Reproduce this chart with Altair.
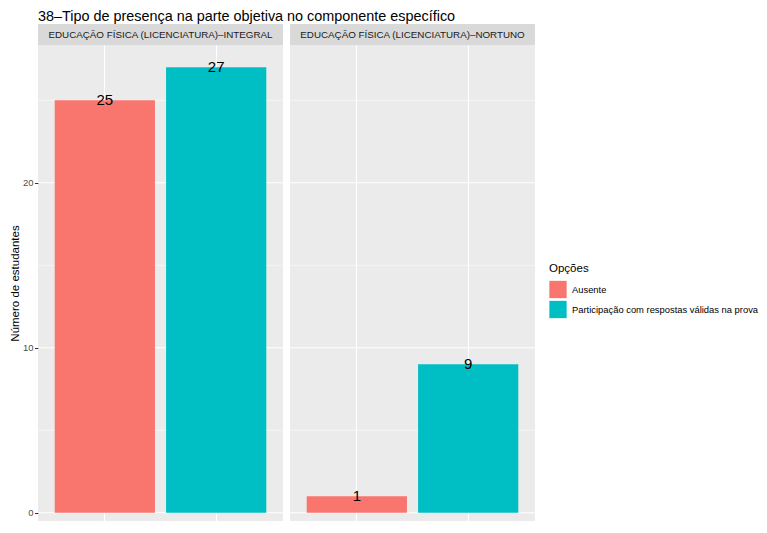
import altair as alt
import pandas as pd

title = "38–Tipo de presença na parte objetiva no componente específico"
panels = ["EDUCAÇÃO FÍSICA (LICENCIATURA)–INTEGRAL", "EDUCAÇÃO FÍSICA (LICENCIATURA)–NORTUNO"]
options = ["Ausente", "Participação com respostas válidas na prova"]
values_integral = [25, 27]
values_noturno = [1, 9]
colors = ["#F8766D", "#00BFC4"]
y_major = [0, 10, 20]
y_minor = [5, 15, 25]

FONT = "Liberation Sans"
ydom = [-0.5, 28.35]
PW, SH = 245, 21
PH = round((ydom[1] - ydom[0]) * 16.5)


def panel(label, vals, first):
    df = pd.DataFrame({"Opções": options, "n": vals})
    yscale = alt.Scale(domain=ydom, nice=False, zero=False)
    if first:
        yaxis = alt.Axis(values=y_major, grid=False, domain=False, tickSize=3.5, tickColor="#333333",
                         labelFontSize=9.5, labelColor="#4D4D4D", labelPadding=1.5, labelFont=FONT,
                         title="Número de estudantes", titleFontSize=11.5, titleFont=FONT,
                         titleFontWeight="normal", titleColor="black", titlePadding=2)
    else:
        yaxis = None
    xscale = alt.Scale(domain=options, paddingInner=0.1, paddingOuter=0.15)
    xaxis = alt.Axis(title=None, labels=False, ticks=False, domain=False, grid=True,
                     bandPosition=0.5, gridColor="white", gridWidth=1.1)

    minor = alt.Chart(pd.DataFrame({"v": y_minor})).mark_rule(color="white", strokeWidth=0.55).encode(
        y=alt.Y("v:Q", scale=yscale, axis=yaxis))
    major = alt.Chart(pd.DataFrame({"v": y_major})).mark_rule(color="white", strokeWidth=1.1).encode(
        y=alt.Y("v:Q", scale=yscale, axis=yaxis))
    bars = alt.Chart(df).mark_bar().encode(
        x=alt.X("Opções:N", scale=xscale, axis=xaxis),
        y=alt.Y("n:Q", scale=yscale, axis=yaxis),
        color=alt.Color("Opções:N", scale=alt.Scale(domain=options, range=colors),
                        legend=alt.Legend(title="Opções", orient="none", legendX=511, legendY=239,
                                          titleFontSize=11.5, titleFont=FONT, titleFontWeight="normal",
                                          titleColor="black", labelFontSize=9.4, labelFont=FONT,
                                          labelColor="black", labelLimit=0, symbolType="square",
                                          symbolSize=300, symbolStrokeWidth=0, rowPadding=2,
                                          titlePadding=6, labelOffset=5)),
    )
    text = alt.Chart(df).mark_text(fontSize=15, font=FONT, color="black", baseline="middle").encode(
        x=alt.X("Opções:N", scale=xscale, axis=xaxis),
        y=alt.Y("n:Q", scale=yscale, axis=yaxis),
        text="n:Q",
    )
    plot = alt.layer(minor, major, bars, text).properties(width=PW, height=PH)

    sdf = pd.DataFrame({"label": [label]})
    strip_bg = alt.Chart(sdf).mark_rect(color="#D9D9D9").encode(
        x=alt.value(0), x2=alt.value(PW), y=alt.value(0), y2=alt.value(SH))
    strip_txt = alt.Chart(sdf).mark_text(fontSize=9.8, font=FONT, color="#1A1A1A").encode(
        x=alt.value(PW / 2), y=alt.value(SH / 2 + 0.5), text="label:N")
    strip = alt.layer(strip_bg, strip_txt).properties(width=PW, height=SH)
    return alt.vconcat(strip, plot, spacing=0)


chart = alt.hconcat(
    panel(panels[0], values_integral, True),
    panel(panels[1], values_noturno, False),
    spacing=5,
).resolve_scale(color="shared").properties(
    title=alt.TitleParams(title, anchor="start", fontSize=14.4, font=FONT, fontWeight="normal",
                          color="black", offset=0, frame="group"),
    padding={"left": 1, "top": 0, "right": 0, "bottom": 0},
).configure_view(fill="#EBEBEB", stroke=None)

chart.save("out.html", embed_options={"renderer": "svg", "actions": False})
